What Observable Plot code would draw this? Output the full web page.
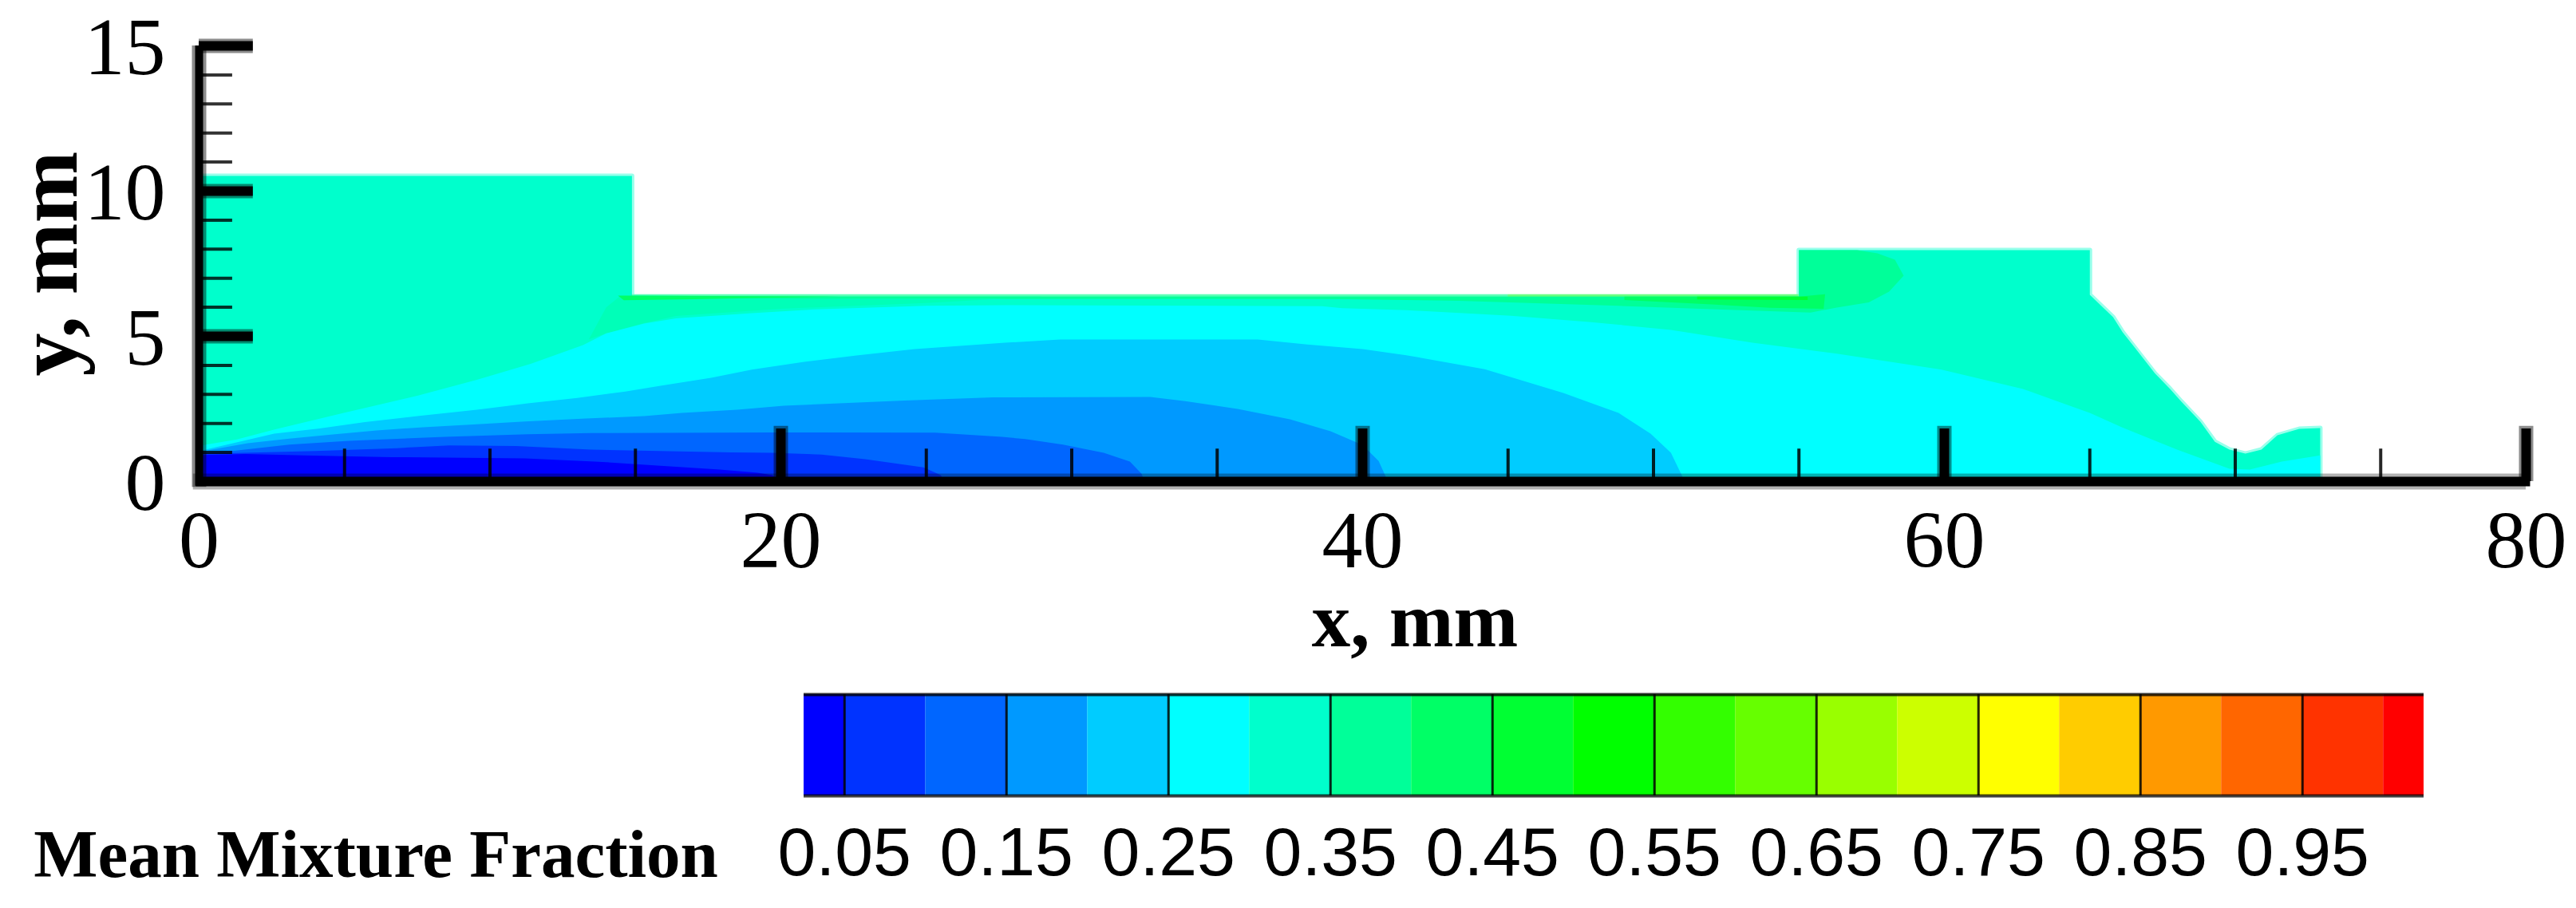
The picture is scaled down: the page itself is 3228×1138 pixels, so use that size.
<!DOCTYPE html>
<html>
<head>
<meta charset="utf-8">
<title>Mean Mixture Fraction</title>
<script src="https://cdn.jsdelivr.net/npm/d3@7"></script>
<script src="https://cdn.jsdelivr.net/npm/@observablehq/plot@0.6"></script>
<style>
html,body{margin:0;padding:0;background:#fff;overflow:hidden}
svg{display:block}
</style>
</head>
<body>
<div id="chart"></div>
<script>
// --- geometry of the domain (x mm, y mm) ---
const domainOutline = [[0,0],[0,10.52],[14.88,10.52],[14.88,6.37],[55,6.37],[55,7.97],[65,7.97],[65,6.43],[65.8,5.66],[66.13,5.14],[66.5,4.67],[67.24,3.72],[67.76,3.19],[68.15,2.75],[68.8,2.06],[69.3,1.37],[69.8,1.1],[70.35,0.96],[70.9,1.1],[71.45,1.59],[72.2,1.81],[72.92,1.84],[72.92,0]];

// --- filled contour bands, painted from outer to inner ---
const band00ff99 = [[14.88,6.37],[55,6.37],[55,7.97],[57,7.97],[57.7,7.86],[58.3,7.64],[58.6,7.09],[58.1,6.54],[57.4,6.17],[56.3,5.99],[55.4,5.82],[52.4,5.92],[48.8,6.05],[43.3,6.22],[38,6.3],[30,6.31],[20,6.3]];
const wedge00ff99 = [[13.4,4.9],[14,6.0],[14.5,6.4],[14.88,6.4],[20,6.37],[29,6.37],[25,6.15],[20,5.95],[16.4,5.7],[15.3,5.45],[14,5.1]];
const band00ff66 = [[49,6.37],[55,6.37],[55.9,6.45],[55.85,5.95],[54,5.98],[52,6.1],[49,6.25]];
const wedge00ff66 = [[14.4,6.4],[22,6.37],[17,6.28],[14.6,6.24]];
const band00ff33 = [[51.5,6.37],[55.3,6.37],[55.3,6.25],[51.5,6.27]];
const band00ffff = [[0,0],[0,1.23],[1.3,1.45],[2.6,1.79],[5,2.37],[7.5,2.95],[9.55,3.5],[11.4,4.05],[13.2,4.7],[14,5.1],[15.3,5.44],[16.4,5.62],[19,5.8],[21.2,5.93],[25,6.05],[27.7,6.07],[38.6,6.04],[39.3,5.97],[41.5,5.9],[45.1,5.71],[47.85,5.49],[50.6,5.22],[53.4,4.78],[56.3,4.4],[59.9,3.85],[62.7,3.19],[65,2.36],[66.1,1.87],[68,1.1],[69.8,0.44],[70.5,0.41],[71.6,0.69],[72.92,0.9],[72.92,0]];
const band00ccff = [[0,0],[0,1.05],[0.9,1.26],[2.58,1.65],[4.14,1.83],[5.7,2.05],[7.5,2.25],[9.55,2.47],[11.3,2.69],[13,2.88],[14.65,3.1],[15.86,3.3],[17.6,3.57],[19,3.85],[20.8,4.12],[22.6,4.34],[24.6,4.56],[27.7,4.78],[29.6,4.89],[36.4,4.89],[38.1,4.72],[40,4.56],[41.5,4.35],[44.2,3.87],[46.9,3.05],[48.8,2.36],[49.9,1.65],[50.6,0.99],[51,0.16],[51.05,0]];
const band0099ff = [[0,0],[0,1.02],[1.67,1.32],[3.1,1.48],[4.6,1.62],[6.1,1.76],[7.7,1.87],[9.55,1.97],[11.2,2.07],[13.3,2.17],[15.3,2.25],[16.6,2.36],[18.5,2.47],[20.1,2.61],[22,2.69],[24.25,2.79],[27.3,2.9],[32.7,2.91],[33.9,2.77],[35.7,2.5],[37.5,2.14],[38.9,1.73],[40,1.26],[40.55,0.71],[40.8,0.16],[40.85,0]];
const band0066ff = [[0,0],[0,1],[1.2,1.06],[3.1,1.27],[5.15,1.4],[8.45,1.54],[11.3,1.63],[13.47,1.67],[19.7,1.69],[25.3,1.68],[27.6,1.54],[28.4,1.46],[29.7,1.27],[31.1,0.99],[32,0.69],[32.4,0.27],[32.5,0]];
const band0033ff = [[0,0],[0,0.95],[1.3,0.98],[4,1.05],[6.8,1.15],[8.6,1.24],[10.9,1.22],[13.47,1.1],[18.3,1],[19.7,0.99],[21.4,0.93],[22.9,0.77],[24.9,0.49],[25.5,0.22],[25.6,0]];
const band0000ff = [[0,0],[0,0.91],[1.6,0.95],[3.6,0.9],[6.6,0.84],[11.2,0.8],[13.6,0.69],[15.75,0.55],[17.9,0.41],[19.2,0.3],[19.7,0.22],[20,0]];

// --- axes ---
const xMajor = [20,40,60,80];
const xMinor = [5,10,15,25,30,35,45,50,55,65,70,75];
const yMajor = [5,10,15];
const yMinor = [1,2,3,4,6,7,8,9,11,12,13,14];
const xLabels = [0,20,40,60,80];
const yLabels = [0,5,10,15];

// --- colour bar ---
const levelEdges = [0.025,0.05,0.10,0.15,0.20,0.25,0.30,0.35,0.40,0.45,0.50,0.55,0.60,0.65,0.70,0.75,0.80,0.85,0.90,0.95,1.00,1.025];
const levelColors = ["#0000ff","#0033ff","#0066ff","#0099ff","#00ccff","#00ffff","#00ffcc","#00ff99","#00ff66","#00ff33","#00ff00","#33ff00","#66ff00","#99ff00","#ccff00","#ffff00","#ffcc00","#ff9900","#ff6600","#ff3300","#ff0000"];
const levelTicks = [0.05,0.15,0.25,0.35,0.45,0.55,0.65,0.75,0.85,0.95];

const serif = "'Liberation Serif','Times New Roman',serif";
const sans = "'Liberation Sans',Arial,sans-serif";
const px = d => d[0], py = d => d[1];
const poly = (pts, fill) => Plot.line(pts, {x: px, y: py, fill, stroke: "none", curve: "linear"});

const main = Plot.plot({
  width: 3228, height: 840,
  marginLeft: 249, marginRight: 63, marginTop: 57, marginBottom: 237,
  x: {domain: [0, 80]},
  y: {domain: [0, 15]},
  style: {background: "#fff", color: "#000"},
  marks: [
    Plot.line(domainOutline, {x: px, y: py, fill: "#00ffcc", stroke: "#00ffcc", strokeWidth: 6, strokeOpacity: 0.4, curve: "linear"}),
    Plot.ruleY([6.37], {x1: 14.88, x2: 45, stroke: "#00ff66", strokeWidth: 6, strokeOpacity: 0.4}),
    Plot.ruleY([6.37], {x1: 45, x2: 55, stroke: "#33ff00", strokeWidth: 6, strokeOpacity: 0.45}),
    poly(wedge00ff99, "#00ffb8"),
    poly(band00ff99, "#00ff99"),
    poly(band00ff66, "#00ff66"),
    poly(wedge00ff66, "#00ff66"),
    poly(band00ff33, "#00ff33"),
    poly(band00ffff, "#00ffff"),
    poly(band00ccff, "#00ccff"),
    poly(band0099ff, "#0099ff"),
    poly(band0066ff, "#0066ff"),
    poly(band0033ff, "#0033ff"),
    poly(band0000ff, "#0000ff"),
    // minor ticks
    Plot.ruleX(xMinor, {y1: 0, y2: 1.12, stroke: "#000", strokeWidth: 4, strokeOpacity: 0.85}),
    Plot.ruleY(yMinor, {x1: 0, x2: 1.15, stroke: "#000", strokeWidth: 4, strokeOpacity: 0.8}),
    // major ticks, with a soft edge
    Plot.ruleX(xMajor, {y1: 0, y2: 1.9, stroke: "#000", strokeWidth: 18, strokeOpacity: 0.45}),
    Plot.ruleY(yMajor, {x1: 0, x2: 1.86, stroke: "#000", strokeWidth: 18, strokeOpacity: 0.45}),
    Plot.ruleX(xMajor, {y1: 0, y2: 1.81, stroke: "#000", strokeWidth: 12}),
    Plot.ruleY(yMajor, {x1: 0, x2: 1.86, stroke: "#000", strokeWidth: 12}),
    // spines
    Plot.ruleX([0], {y1: -0.2, y2: 15, stroke: "#000", strokeWidth: 18, strokeOpacity: 0.45}),
    Plot.ruleY([0], {x1: -0.2, x2: 80, stroke: "#000", strokeWidth: 20, strokeOpacity: 0.3}),
    Plot.ruleX([0], {y1: -0.16, y2: 15, stroke: "#000", strokeWidth: 10}),
    Plot.ruleY([0], {x1: -0.1, x2: 80.15, stroke: "#000", strokeWidth: 12}),
    Plot.axisX(xLabels, {anchor: "bottom", tickSize: 0, tickPadding: 35, fontSize: 102, fontFamily: serif, label: null}),
    Plot.axisY(yLabels, {anchor: "left", tickSize: 0, tickPadding: 42, dy: 3, fontSize: 102, fontFamily: serif, label: null}),
    Plot.text(["x, mm"], {x: 41.8, y: -5.66, text: d => d, lineAnchor: "bottom", fontSize: 97, fontWeight: "bold", fontFamily: serif, fill: "#000"}),
    Plot.text(["y, mm"], {x: -4.2, y: 7.5, text: d => d, rotate: -90, lineAnchor: "bottom", fontSize: 108, fontWeight: "bold", fontFamily: serif, fill: "#000"})
  ]
});

const bandRows = levelColors.map((c, i) => ({a: levelEdges[i], b: levelEdges[i + 1], c}));
const legend = Plot.plot({
  width: 3228, height: 298,
  marginLeft: 1007, marginRight: 191, marginTop: 30, marginBottom: 141,
  x: {domain: [0.025, 1.025]},
  y: {domain: [0, 1], axis: null},
  color: {type: "identity"},
  style: {background: "#fff", color: "#000"},
  marks: [
    Plot.rect(bandRows, {x1: "a", x2: "b", y1: 0, y2: 1, fill: "c"}),
    Plot.ruleX(levelTicks, {y1: 0, y2: 1, stroke: "#000", strokeWidth: 3, strokeOpacity: 0.85}),
    Plot.ruleY([1], {stroke: "#000", strokeWidth: 4, strokeOpacity: 0.8}),
    Plot.ruleY([0], {stroke: "#000", strokeWidth: 4, strokeOpacity: 0.75}),
    Plot.axisX(levelTicks, {anchor: "bottom", tickSize: 0, tickPadding: 38, tickFormat: d3.format(".2f"), fontSize: 86, fontFamily: sans, label: null}),
    Plot.text(["Mean Mixture Fraction"], {x: -0.4505, y: -0.80, text: d => d, textAnchor: "start", lineAnchor: "bottom", fontSize: 85, fontWeight: "bold", fontFamily: serif, fill: "#000"})
  ]
});

const root = document.getElementById("chart");
root.append(main, legend);
</script>
</body>
</html>
